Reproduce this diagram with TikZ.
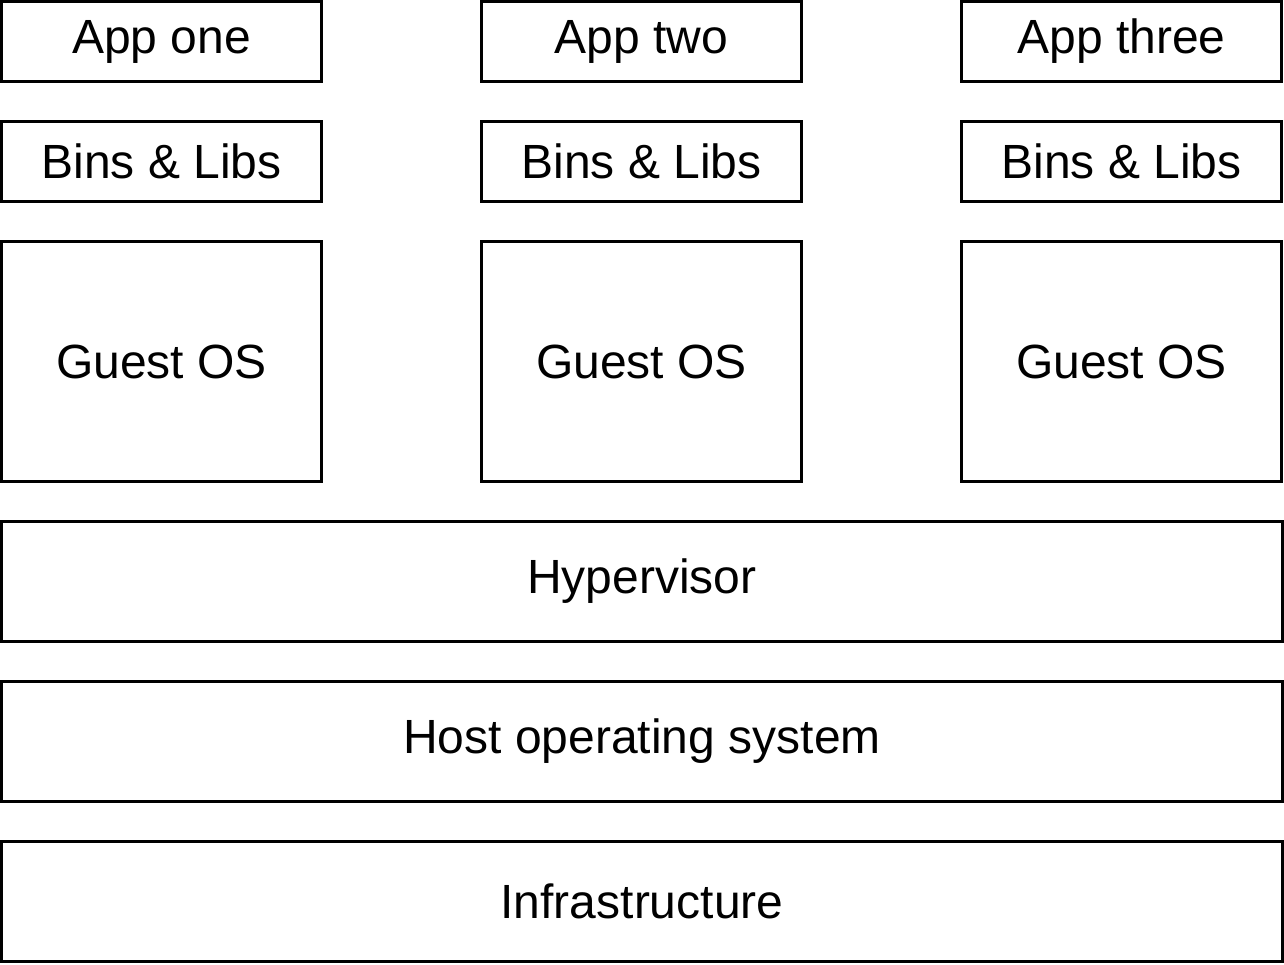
\documentclass[tikz,border=0pt]{standalone}
\usepackage{fontspec}
\setmainfont{Liberation Sans}
\begin{document}
\begin{tikzpicture}[x=0.5pt,y=-0.5pt,
  box/.style={draw=black,line width=1.5pt,inner sep=0pt,font=\fontsize{24pt}{28pt}\selectfont}]
\useasboundingbox (0,0) rectangle (1284,964);
% columns
\foreach \i/\nm/\app in {0/a/App one,1/b/App two,2/c/App three}{
  \pgfmathsetmacro{\cx}{161.5+480*\i}
  \node[box,minimum width=160pt,minimum height=40pt] (app\nm) at (\cx,41.5) {\app};
  \node[box,minimum width=160pt,minimum height=40pt] (bins\nm) at (\cx,161.5) {Bins \& Libs};
  \node[box,minimum width=160pt,minimum height=120pt] (guest\nm) at (\cx,361.5) {Guest OS};
}
\node[box,minimum width=640.5pt,minimum height=60pt] (hyper) at (642,581.5) {Hypervisor};
\node[box,minimum width=640.5pt,minimum height=60pt] (host) at (642,741.5) {Host operating system};
\node[box,minimum width=640.5pt,minimum height=60pt] (infra) at (642,901.5) {Infrastructure};
\end{tikzpicture}
\end{document}
